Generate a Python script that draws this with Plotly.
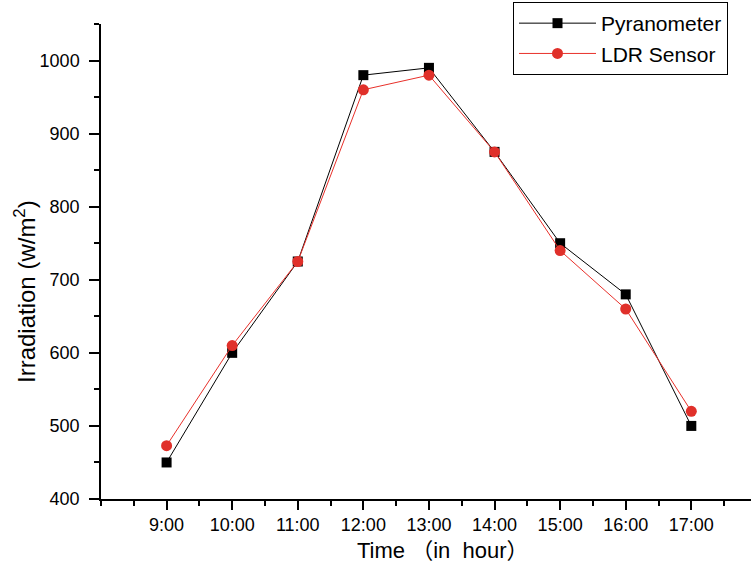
import plotly.graph_objects as go

hours = [9, 10, 11, 12, 13, 14, 15, 16, 17]
hour_labels = ["9:00", "10:00", "11:00", "12:00", "13:00", "14:00", "15:00", "16:00", "17:00"]
pyranometer = [450, 600, 725, 980, 990, 875, 750, 680, 500]
ldr_sensor = [473, 610, 725, 960, 980, 875, 740, 660, 520]

fig = go.Figure()
fig.add_trace(go.Scatter(
    x=hours, y=pyranometer, name="Pyranometer", mode="lines+markers",
    line=dict(color="#000000", width=1),
    marker=dict(symbol="square", size=10, color="#000000"),
))
fig.add_trace(go.Scatter(
    x=hours, y=ldr_sensor, name="LDR Sensor", mode="lines+markers",
    line=dict(color="#e8302a", width=1),
    marker=dict(symbol="circle", size=11, color="#e0302a"),
))

font = "Liberation Sans, Arial, Noto Sans CJK SC, sans-serif"
fig.update_layout(
    width=751, height=564,
    margin=dict(l=101, r=0, t=24, b=65),
    paper_bgcolor="white", plot_bgcolor="white",
    font=dict(family=font, color="#000000", size=18),
    showlegend=True,
    legend=dict(
        x=(513 - 101) / 650, y=(499 - 2) / 475, xanchor="left", yanchor="top",
        bordercolor="#000000", borderwidth=1, bgcolor="white",
        font=dict(size=21, family=font), tracegroupgap=0, itemwidth=77,
    ),
    xaxis=dict(
        range=[8, 17.91], showgrid=False, zeroline=False,
        showline=True, linecolor="#000000", linewidth=1.5,
        tickmode="array", tickvals=hours, ticktext=hour_labels,
        ticks="outside", ticklen=9, tickwidth=1.5, tickcolor="#000000",
        tickfont=dict(size=18),
        minor=dict(dtick=0.5, tick0=8, ticks="outside", ticklen=5, tickwidth=1.5, tickcolor="#000000"),
    ),
    yaxis=dict(
        range=[400, 1050], showgrid=False, zeroline=False,
        showline=True, linecolor="#000000", linewidth=1.5,
        tickvals=[400, 500, 600, 700, 800, 900, 1000],
        ticks="outside", ticklen=10, tickwidth=1.5, tickcolor="#000000",
        tickfont=dict(size=18), ticklabelstandoff=6,
        minor=dict(dtick=50, tick0=400, ticks="outside", ticklen=5, tickwidth=1.5, tickcolor="#000000"),
    ),
    annotations=[
        dict(text="Time （in\u00a0 hour）", x=(443 - 101) / 650, y=(499 - 550) / 475, xref="paper", yref="paper",
             xanchor="center", yanchor="middle", showarrow=False, font=dict(size=22)),
        dict(text="Irradiation (w/m<sup>2</sup>)", x=(25 - 101) / 650, y=(499 - 292) / 475, xref="paper", yref="paper",
             xanchor="center", yanchor="middle", showarrow=False, textangle=-90, font=dict(size=24)),
    ],
)

fig.write_html("out.html")
